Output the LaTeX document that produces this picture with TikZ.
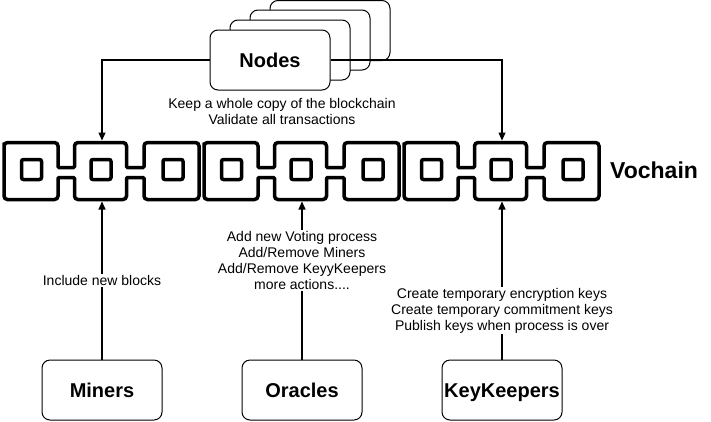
\documentclass[tikz,border=0pt]{standalone}
\usepackage{fontspec}
\setmainfont{Liberation Sans}
\usetikzlibrary{arrows.meta}
\begin{document}
\begin{tikzpicture}[x=1pt,y=-1pt,
  box/.style={draw, fill=white, rounded corners=8pt, line width=1pt,
    minimum width=120pt, minimum height=60pt, inner sep=0pt,
    text height=14.3pt, text depth=0pt,
    font=\fontsize{20}{24}\selectfont\bfseries},
  lbl/.style={fill=white, align=center, inner sep=1pt,
    font=\fontsize{14}{16}\selectfont},
  conn/.style={line width=1.1pt, -{Triangle[length=8pt,width=7pt]}},
  chainline/.style={line width=3.5pt}]
\useasboundingbox (0,0) rectangle (711,421);

% chain
\foreach \o in {0,200,400}{
  \begin{scope}[xshift=\o pt]
    \draw[chainline] (4,146) [rounded corners=3.5pt] -- (4,142.5) -- (58,142.5) [rounded corners=1pt] -- (58,167.5) -- (74.5,167.5)
      [rounded corners=3.5pt] -- (74.5,142.5) -- (126.5,142.5) [rounded corners=1pt] -- (126.5,167.5) -- (144,167.5)
      [rounded corners=3.5pt] -- (144,142.5) -- (199,142.5) -- (199,199.5) -- (144,199.5)
      [rounded corners=1pt] -- (144,177.5) -- (126.5,177.5) [rounded corners=3.5pt] -- (126.5,199.5) -- (74.5,199.5)
      [rounded corners=1pt] -- (74.5,177.5) -- (58,177.5) [rounded corners=3.5pt] -- (58,199.5) -- (4,199.5) -- cycle;
    \foreach \c in {31.5,101,173}
      \draw[line width=3.5pt, rounded corners=2pt] (\c-10,159.5) rectangle (\c+10,179.5);
  \end{scope}
}
\node[anchor=base west, inner sep=0pt, font=\fontsize{23}{27}\selectfont\bfseries] (vochain) at (610,178.5) {Vochain};

\coordinate (t1) at (102,140.5);
\coordinate (t3) at (502,140.5);
\coordinate (b1) at (102,201.5);
\coordinate (b2) at (302,201.5);
\coordinate (b3) at (502,201.5);

% node stack
\node[box] (n3) at (330,30.5) {};
\node[box] (n2) at (310,40) {};
\node[box] (n1) at (290,50) {};
\node[box] (nodes) at (270,60) {Nodes};
\node[lbl] (nodeslbl) at (282,111) {Keep a whole copy of the blockchain\\Validate all transactions};

\draw[conn] (nodes.west) -| (t1);
\draw[conn] (nodes.east) -| (t3);

% bottom boxes
\node[box] (miners) at (102,390) {Miners};
\node[box] (oracles) at (302,390) {Oracles};
\node[box] (keykeepers) at (502,390) {KeyKeepers};

\draw[conn] (miners) -- (b1) node[lbl, pos=0.5] (minerslbl) {Include new blocks};
\draw[conn] (oracles) -- (b2) node[lbl, pos=0.627] (oracleslbl) {Add new Voting process\\Add/Remove Miners\\Add/Remove KeyyKeepers\\more actions....};
\draw[conn] (keykeepers) -- (b3) node[lbl, pos=0.31] (kklbl) {Create temporary encryption keys\\Create temporary commitment keys\\Publish keys when process is over};
\end{tikzpicture}
\end{document}
